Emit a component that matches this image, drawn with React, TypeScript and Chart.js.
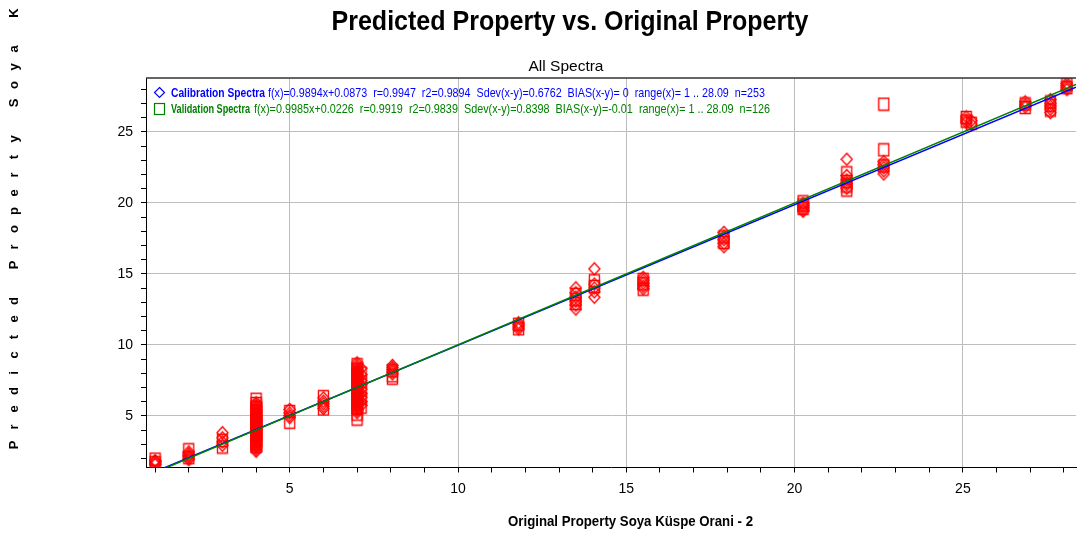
import { useEffect, useRef } from 'react';
import { Chart, registerables } from 'chart.js';

Chart.register(...registerables);

const WIDTH = 1083;
const HEIGHT = 536;
const FONT = '"Liberation Sans", Arial, sans-serif';

const chartTitle = 'Predicted Property vs. Original Property';
const chartSubtitle = 'All Spectra';
const xAxisTitle = 'Original Property Soya Küspe Orani - 2';
const yAxisTitle = 'Predicted Property Soya Küspe Orani - 2';

const xRange = [0.729, 28.361];
const yRange = [1.37, 28.8];
const majorStep = 5;

// Original property values (x) shared by both sample sets
const levels = [1, 2, 3, 4, 5, 6, 7, 7.12, 8.05, 11.8, 13.5, 14.05, 15.5, 17.9, 20.25, 21.55, 22.65, 25.1, 25.25, 26.85, 27.6, 28.09];

// Predicted values per original level, calibration set
const calibrationPredicted: number[][] = [
  [1.86, 1.78, 1.69, 1.58],
  [2.47, 2.34, 2.21, 2.12, 2.03, 1.92],
  [3.82, 3.46, 3.17, 2.94],
  [5.93, 5.84, 5.71, 5.66, 5.58, 5.49, 5.41, 5.36, 5.27, 5.19, 5.12, 5.06, 4.98, 4.91, 4.87, 4.79, 4.72, 4.68, 4.61, 4.55, 4.49, 4.43, 4.38, 4.31, 4.26, 4.2, 4.14, 4.09, 4.03, 3.97, 3.92, 3.86, 3.81, 3.74, 3.69, 3.62, 3.57, 3.5, 3.44, 3.37, 3.31, 3.24, 3.16, 3.08, 2.99, 2.91, 2.83, 2.74, 2.62, 2.51],
  [5.46, 5.21, 5.02, 4.88],
  [6.27, 6.04, 5.86, 5.68, 5.52],
  [8.74, 8.57, 8.43, 8.31, 8.22, 8.13, 8.04, 7.96, 7.89, 7.81, 7.73, 7.67, 7.59, 7.52, 7.46, 7.38, 7.32, 7.24, 7.18, 7.11, 7.05, 6.97, 6.91, 6.84, 6.76, 6.71, 6.63, 6.56, 6.47, 6.42, 6.34, 6.28, 6.19, 6.13, 6.04, 5.96, 5.87, 5.78, 5.69, 5.58, 5.47, 5.36, 5.23],
  [8.36, 7.92, 7.48, 7.21, 6.88, 6.59, 6.31, 6.02, 5.74],
  [8.56, 8.41, 8.27, 8.12, 7.96],
  [11.56, 11.42, 11.27, 11.12],
  [14.02, 13.68, 13.37, 13.08, 12.81, 12.53],
  [15.36, 14.29, 14.01, 13.74, 13.36],
  [14.76, 14.57, 14.36, 14.14, 13.96],
  [17.93, 17.66, 17.41, 17.14, 16.92],
  [19.97, 19.81, 19.66, 19.51, 19.42],
  [23.08, 21.93, 21.62, 21.43, 21.28, 21.04],
  [22.91, 22.69, 22.48, 22.26, 22.04],
  [26.06, 25.84, 25.69],
  [25.79, 25.55],
  [27.12, 26.91, 26.76],
  [27.28, 27.03, 26.82, 26.61, 26.36],
  [28.42, 28.26, 28.11, 27.98],
];

// Predicted values per original level, validation set
const validationPredicted: number[][] = [
  [1.96, 1.71],
  [2.62, 2.06],
  [3.27, 2.81],
  [6.18, 5.88, 5.61, 5.34, 5.09, 4.92, 4.71, 4.52, 4.33, 4.18, 4.01, 3.82, 3.63, 3.41, 3.22, 3.03, 2.84],
  [5.31, 4.56],
  [6.36, 5.49],
  [8.61, 8.26, 7.94, 7.62, 7.31, 7.02, 6.71, 6.42, 6.09, 5.81, 5.52, 5.13, 4.78],
  [8.02, 7.41, 6.83, 6.21, 5.62],
  [8.18, 7.83, 7.66],
  [11.46, 11.14],
  [13.56, 13.21, 12.92],
  [14.52, 14.12],
  [14.62, 14.31, 13.93],
  [17.61, 17.22],
  [20.08, 19.86, 19.62],
  [22.12, 21.51, 21.19, 20.91],
  [26.96, 23.74, 22.61],
  [26.02, 25.76],
  [25.61],
  [26.97, 26.72],
  [27.11, 26.88, 26.54],
  [28.36, 28.12],
];

// Regression lines: [slope, intercept]
const calibrationFit = [0.9894, 0.0873];
const validationFit = [0.9985, 0.0226];

const calibrationName = 'Calibration Spectra';
const calibrationStats = 'f(x)=0.9894x+0.0873  r=0.9947  r2=0.9894  Sdev(x-y)=0.6762  BIAS(x-y)= 0  range(x)= 1 .. 28.09  n=253';
const validationName = 'Validation Spectra';
const validationStats = 'f(x)=0.9985x+0.0226  r=0.9919  r2=0.9839  Sdev(x-y)=0.8398  BIAS(x-y)=-0.01  range(x)= 1 .. 28.09  n=126';

const RED = '#ff0000';
const BLUE = '#0000ff';
const GREEN = '#008000';
const GRID = '#bdbdbd';

function toPoints(groups: number[][]) {
  const pts: { x: number; y: number }[] = [];
  groups.forEach((vals, i) => vals.forEach((v) => pts.push({ x: levels[i], y: v })));
  return pts;
}

function fitLine(fit: number[]) {
  return xRange.map((x) => ({ x, y: fit[0] * x + fit[1] }));
}

function makeMarker(shape: 'diamond' | 'square', color: string) {
  const c = document.createElement('canvas');
  c.width = 13;
  c.height = 15;
  const g = c.getContext('2d')!;
  g.strokeStyle = color;
  g.lineWidth = 1.35;
  g.beginPath();
  if (shape === 'diamond') {
    g.moveTo(6.5, 1.5);
    g.lineTo(12, 7.5);
    g.lineTo(6.5, 13.5);
    g.lineTo(1, 7.5);
    g.closePath();
  } else {
    g.rect(1.5, 1.5, 10, 12);
  }
  g.stroke();
  return c;
}

// Draws text squeezed horizontally to a given width (narrow face look)
function fitText(
  ctx: CanvasRenderingContext2D,
  text: string,
  x: number,
  y: number,
  font: string,
  color: string,
  width: number,
  align: 'left' | 'center' = 'left'
) {
  ctx.save();
  ctx.font = font;
  ctx.fillStyle = color;
  ctx.textAlign = 'left';
  ctx.textBaseline = 'alphabetic';
  const natural = ctx.measureText(text).width;
  const sx = width / natural;
  const left = align === 'center' ? x - width / 2 : x;
  ctx.translate(left, y);
  ctx.scale(sx, 1);
  ctx.fillText(text, 0, 0);
  ctx.restore();
}

const decorations = {
  id: 'decorations',
  afterDraw(chart: Chart) {
    const ctx = chart.ctx;
    const area = chart.chartArea;

    // frame line along the top of the plot
    ctx.save();
    ctx.strokeStyle = '#333';
    ctx.lineWidth = 1.5;
    ctx.beginPath();
    ctx.moveTo(area.left, area.top);
    ctx.lineTo(area.right, area.top);
    ctx.stroke();
    ctx.restore();

    fitText(ctx, chartTitle, 570, 29.5, `bold 28px ${FONT}`, '#000', 477, 'center');
    fitText(ctx, chartSubtitle, 566, 70.5, `15px ${FONT}`, '#000', 75, 'center');
    fitText(ctx, xAxisTitle, 630.5, 526, `bold 15px ${FONT}`, '#000', 245, 'center');

    // letter-spaced vertical axis title
    ctx.save();
    ctx.translate(14, 0);
    ctx.rotate(-Math.PI / 2);
    ctx.font = `bold 13px ${FONT}`;
    ctx.fillStyle = '#000';
    ctx.textAlign = 'center';
    ctx.textBaseline = 'middle';
    Array.from(yAxisTitle).forEach((ch, i) => {
      ctx.fillText(ch, -(445 - i * 18), 0);
    });
    ctx.restore();

    // legend markers
    ctx.save();
    ctx.lineWidth = 1.2;
    ctx.strokeStyle = BLUE;
    ctx.beginPath();
    ctx.moveTo(159.5, 87.5);
    ctx.lineTo(164.5, 92.5);
    ctx.lineTo(159.5, 97.5);
    ctx.lineTo(154.5, 92.5);
    ctx.closePath();
    ctx.stroke();
    ctx.strokeStyle = GREEN;
    ctx.strokeRect(154.5, 103.5, 10, 11);
    ctx.restore();

    // legend text
    fitText(ctx, calibrationName, 171, 97, `bold 13px ${FONT}`, BLUE, 94);
    fitText(ctx, calibrationStats, 268, 97, `13px ${FONT}`, BLUE, 497);
    fitText(ctx, validationName, 171, 113, `bold 13px ${FONT}`, GREEN, 79);
    fitText(ctx, validationStats, 254, 113, `13px ${FONT}`, GREEN, 516);
  },
};

function isMajor(v: number) {
  return Math.abs(v / majorStep - Math.round(v / majorStep)) < 1e-9;
}

export default function App() {
  const ref = useRef<HTMLCanvasElement>(null);

  useEffect(() => {
    document.body.style.margin = '0';
    const canvas = ref.current!;
    const diamond = makeMarker('diamond', RED);
    const square = makeMarker('square', RED);

    const axisCommon = (size: 'w' | 'h') => ({
      type: 'linear' as const,
      afterFit: (s: any) => {
        if (size === 'w') s.width = 146;
        else s.height = 68.5;
      },
      ticks: {
        stepSize: 1,
        autoSkip: false,
        includeBounds: false,
        maxRotation: 0,
        padding: 8,
        color: '#000',
        font: { family: FONT, size: 14 },
        callback: (v: any) => (isMajor(Number(v)) ? String(v) : ''),
      },
      grid: {
        color: (c: any) => (c.tick && isMajor(c.tick.value) ? GRID : 'rgba(0,0,0,0)'),
        lineWidth: 1,
        tickColor: '#000',
        tickLength: 5,
        drawTicks: true,
      },
      border: { display: true, color: '#000', width: 1 },
    });

    const chart = new Chart(canvas, {
      type: 'scatter',
      data: {
        datasets: [
          {
            label: calibrationName,
            data: toPoints(calibrationPredicted),
            pointStyle: diamond as any,
            pointRadius: 6,
            order: 3,
          },
          {
            label: validationName,
            data: toPoints(validationPredicted),
            pointStyle: square as any,
            pointRadius: 6,
            order: 2,
          },
          {
            type: 'line',
            label: 'calibration fit',
            data: fitLine(calibrationFit),
            borderColor: BLUE,
            borderWidth: 1.5,
            pointRadius: 0,
            order: 1,
            clip: 0,
          } as any,
          {
            type: 'line',
            label: 'validation fit',
            data: fitLine(validationFit),
            borderColor: GREEN,
            borderWidth: 1.5,
            pointRadius: 0,
            order: 0,
            clip: 0,
          } as any,
        ],
      },
      options: {
        responsive: false,
        animation: false,
        layout: { padding: { top: 78, left: 0, right: 0, bottom: 0 } },
        plugins: {
          legend: { display: false },
          tooltip: { enabled: false },
          title: { display: false },
        },
        scales: {
          x: { ...axisCommon('h'), min: xRange[0], max: xRange[1] } as any,
          y: { ...axisCommon('w'), min: yRange[0], max: yRange[1] } as any,
        },
      },
      plugins: [decorations],
    });

    return () => chart.destroy();
  }, []);

  return (
    <div style={{ position: 'fixed', left: 0, top: 0, width: WIDTH, height: HEIGHT, background: '#fff' }}>
      <canvas ref={ref} width={WIDTH} height={HEIGHT} style={{ display: 'block', width: WIDTH, height: HEIGHT }} />
    </div>
  );
}
